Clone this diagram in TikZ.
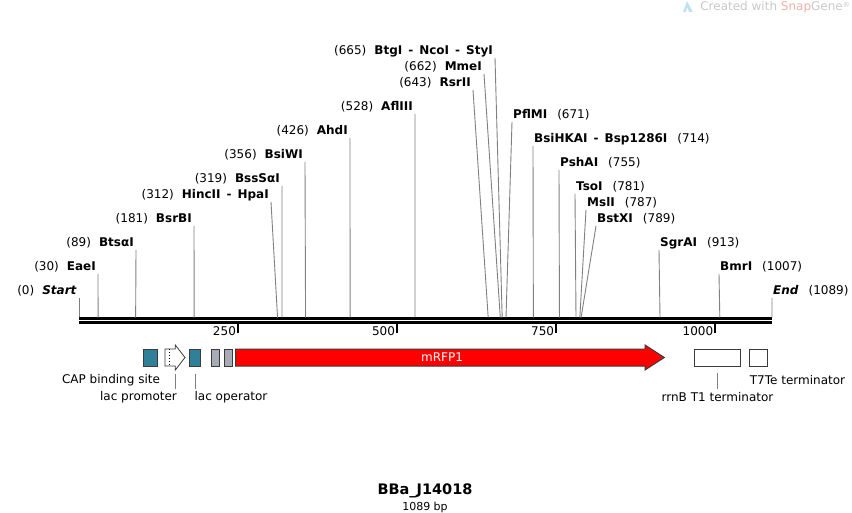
\documentclass[tikz,border=0pt]{standalone}
\usepackage{fontspec}
\setmainfont{DejaVu Sans}
\usetikzlibrary{positioning}
\definecolor{SGTeal}{HTML}{31809A}
\definecolor{SGGrey}{HTML}{A7ACB4}
\definecolor{SGRed}{HTML}{FF0000}
\definecolor{SGEdge}{HTML}{3A3A3A}
\definecolor{SGCut}{HTML}{808080}
\definecolor{SGMark}{HTML}{C8C8C8}
\definecolor{SGSnap}{HTML}{F2AFA8}
\definecolor{SGLeaf}{HTML}{BFE3F0}
\newcommand{\dsh}{\hspace{6pt}-\hspace{6pt}}

\begin{document}
\begin{tikzpicture}[x=1pt,y=-1pt,
  cutline/.style={SGCut,line width=0.9pt},
  cutlbl/.style={inner sep=0pt,font=\fontsize{12}{13}\selectfont},
  featbox/.style={draw=SGEdge,line width=1pt,inner sep=0pt,minimum height=17pt},
  featlbl/.style={inner sep=0pt,font=\fontsize{12}{13}\selectfont},
  leader/.style={SGCut,line width=0.8pt}]
  \useasboundingbox (0,0) rectangle (852,513);
  % sequence line and ruler
  \coordinate (seqA) at (79,318.8);
  \coordinate (seqB) at (772,318.8);
  \coordinate (seqC) at (79,323);
  \coordinate (seqD) at (772,323);
  \draw[line width=3pt] (seqA) -- (seqB);
  \draw[line width=3pt] (seqC) -- (seqD);
  \foreach \t in {250,500,750,1000} {
    \coordinate (tickA\t) at ({79+\t*0.636364},324);
    \coordinate (tickB\t) at ({79+\t*0.636364},333);
    \draw[line width=2pt] (tickA\t) -- (tickB\t);
    \node[cutlbl,anchor=east] (tick\t) at ({77+\t*0.636364},331.5) {\t};
  }
  % cut sites, labels to the left
  \foreach \p/\y/\tx/\name in {0/291/79/\textit{Start},30/267/98/EaeI,89/243/136/BtsαI,
      181/219/194/BsrBI,312/195/271/HincII\dsh HpaI,319/179/282/BssSαI,356/155/305/BsiWI,
      426/131/350/AhdI,528/107/415/AflIII,643/83/473/RsrII,662/67/484/MmeI,
      665/51/495/BtgI\dsh NcoI\dsh StyI} {
    \coordinate (cut\p) at ({79+\p*0.636364},317.5);
    \coordinate (tip\p) at (\tx,{\y+7});
    \node[cutlbl,anchor=east] (lbl\p) at ({\tx-2},\y) {(\p)\hspace{8pt}\textbf{\name}};
    \draw[cutline] (tip\p) -- (cut\p);
  }
  % cut sites, labels to the right
  \foreach \p/\y/\tx/\name in {671/115/512/PflMI,714/139/533/BsiHKAI\dsh Bsp1286I,
      755/163/559/PshAI,781/187/575/TsoI,787/203/586/MslI,789/219/596/BstXI,
      913/243/659/SgrAI,1007/267/719/BmrI,1089/291/772/\textit{End}} {
    \coordinate (cut\p) at ({79+\p*0.636364},317.5);
    \coordinate (tip\p) at (\tx,{\y+7});
    \node[cutlbl,anchor=west] (lbl\p) at ({\tx+1},\y) {\textbf{\name}\hspace{10pt}(\p)};
    \draw[cutline] (tip\p) -- (cut\p);
  }
  % features
  \node[featbox,fill=SGTeal,minimum width=14.5pt] (cap) at (150.5,357.7) {};
  \draw[draw=SGEdge,fill=white,line width=0.8pt] (165,349) -- (175.3,349) -- (175.3,345)
    -- (185,357.5) -- (175.3,370) -- (175.3,366) -- (165,366) -- cycle;
  \draw[dotted,line width=1pt] (169.3,349) -- (169.3,366);
  \node[featbox,fill=SGTeal,minimum width=10.5pt] (lacO) at (195.2,357.7) {};
  \node[featbox,fill=SGGrey,minimum width=8pt] (grey1) at (215.5,357.7) {};
  \node[featbox,fill=SGGrey,minimum width=8pt] (grey2) at (228.3,357.7) {};
  \draw[draw=SGEdge,fill=SGRed,line width=1pt] (235.7,349) -- (645,349) -- (645,345)
    -- (664.3,357.5) -- (645,370) -- (645,366) -- (235.7,366) -- cycle;
  \node[featlbl,white] (rfp) at (442,357.5) {mRFP1};
  \node[featbox,fill=white,minimum width=46pt] (rrnB) at (717.3,357.7) {};
  \node[featbox,fill=white,minimum width=18pt] (t7te) at (758,357.7) {};
  % feature labels
  \coordinate (promA) at (175.3,374);
  \coordinate (promB) at (175.3,389);
  \coordinate (lacOA) at (195.3,374);
  \coordinate (lacOB) at (195.3,389);
  \coordinate (rrnBA) at (717,373);
  \coordinate (rrnBB) at (717,389);
  \draw[leader] (promA) -- (promB);
  \draw[leader] (lacOA) -- (lacOB);
  \draw[leader] (rrnBA) -- (rrnBB);
  \node[featlbl] (capl) at (111,380) {CAP binding site};
  \node[featlbl] (proml) at (138.5,397) {lac promoter};
  \node[featlbl] (lacOl) at (231,397) {lac operator};
  \node[featlbl] (rrnBl) at (717.5,397) {rrnB T1 terminator};
  \node[featlbl] (t7tel) at (797.5,380) {T7Te terminator};
  % title
  \node[inner sep=0pt,font=\bfseries\fontsize{14.5}{16}\selectfont] (title) at (425,491) {BBa\_J14018};
  \node[inner sep=0pt,font=\fontsize{11}{12}\selectfont] (size) at (425,507) {1089 bp};
  % watermark
  \fill[SGLeaf] (683,12) -- (687,1) -- (693,12) -- (689,12) -- (687,7) -- (686,12) -- cycle;
  \node[inner sep=0pt,anchor=east,text=SGMark,font=\fontsize{12}{13}\selectfont] (mark) at (850,7)
    {Created with \textcolor{SGSnap}{Snap}Gene\raisebox{3pt}{\fontsize{7}{7}\selectfont ®}};
\end{tikzpicture}
\end{document}
